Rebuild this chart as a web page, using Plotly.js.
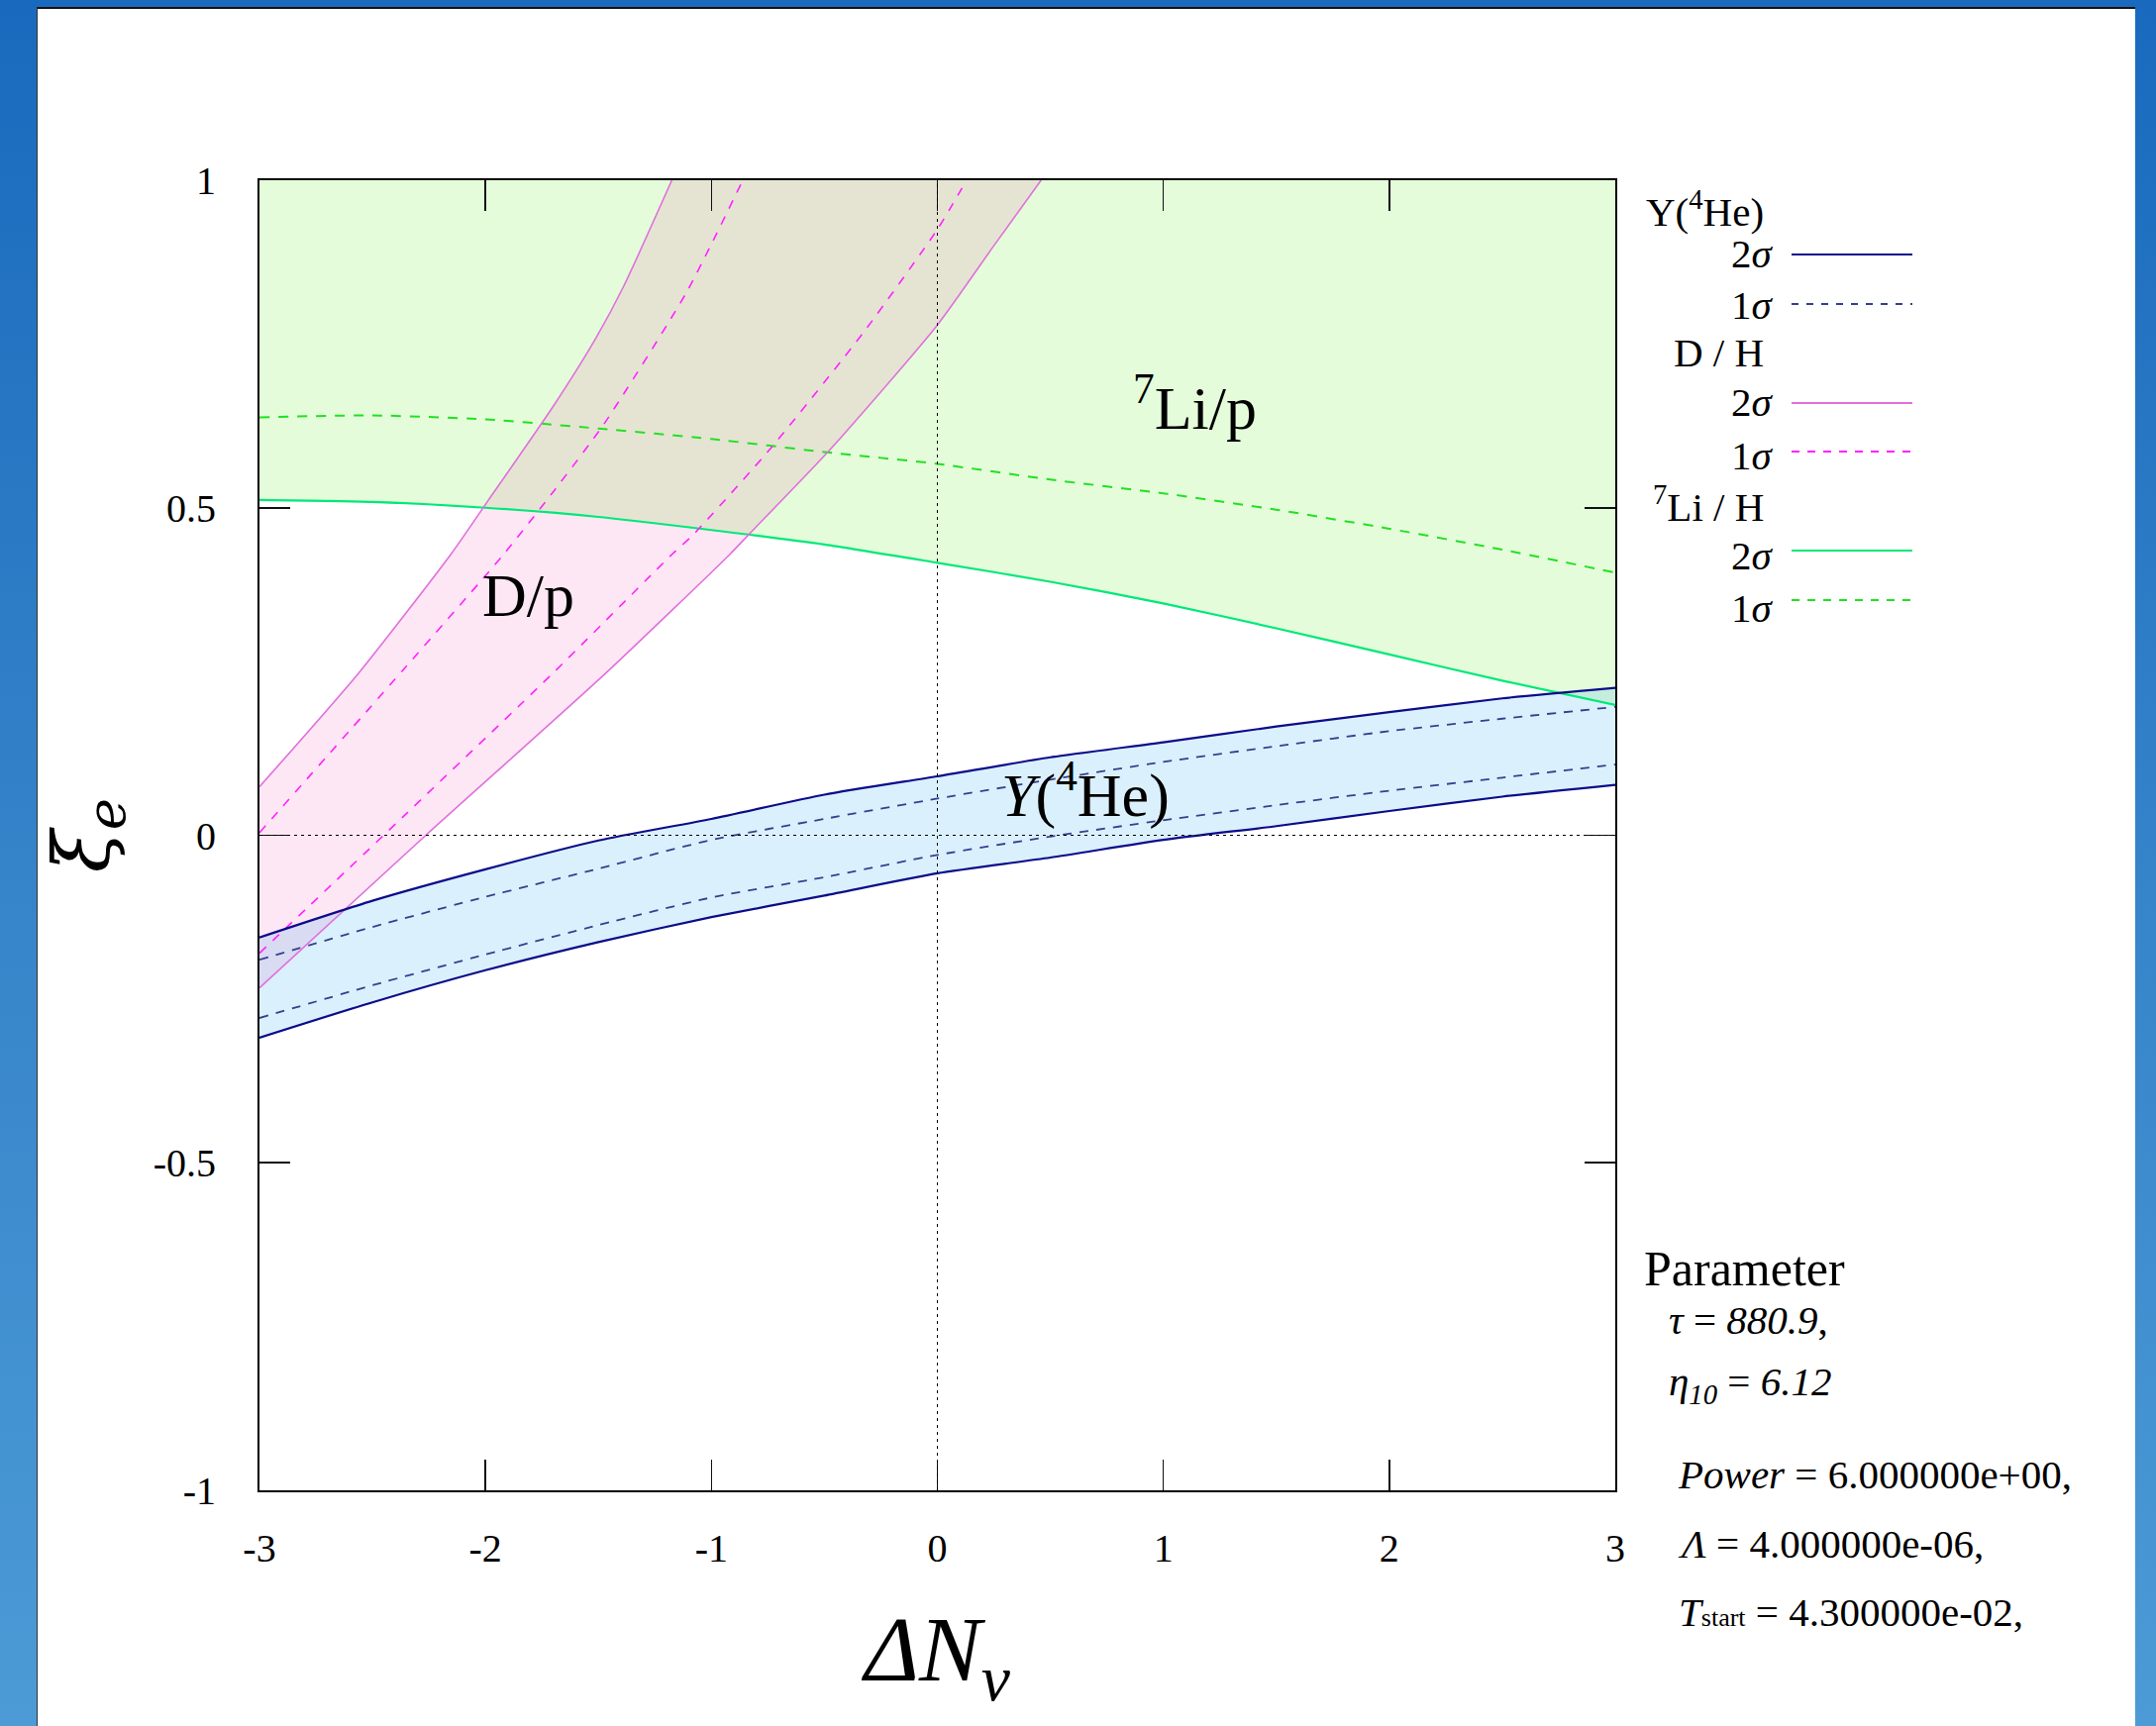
<!DOCTYPE html>
<html><head><meta charset="utf-8">
<script src="https://cdn.plot.ly/plotly-3.0.1.min.js"></script>
<style>
html,body{margin:0;padding:0;width:2177px;height:1743px;overflow:hidden;background:linear-gradient(to bottom,#196abe 0%,#3583c9 50%,#4c9bd6 100%);}
#frame{position:absolute;left:37px;top:7px;width:2119px;height:1736px;border-top:2px solid #111;border-left:1px solid #333;background:#fff;box-sizing:border-box;}
#chart{position:absolute;left:0;top:0;width:2118px;height:1734px;}
</style></head>
<body><div id="frame"><div id="chart"></div></div>
<script>
// ---------- data ----------
const xRange = [-3, 3];
const yRange = [-1, 1];
const xTicks = [-3, -2, -1, 0, 1, 2, 3];
const xTickText = ['-3', '-2', '-1', '0', '1', '2', '3'];
const yTicks = [-1, -0.5, 0, 0.5, 1];
const yTickText = ['-1', '-0.5', '0', '0.5', '1'];

// 7Li/H band (lower bounds)
const liX = [-3, -2.5, -2, -1.5, -1, -0.5, 0, 0.5, 1, 1.5, 2, 2.5, 3];
const li2sigma = [0.512, 0.509, 0.500, 0.486, 0.466, 0.444, 0.416, 0.387, 0.354, 0.316, 0.276, 0.236, 0.199];
const li1sigma = [0.638, 0.641, 0.635, 0.621, 0.605, 0.585, 0.567, 0.543, 0.522, 0.497, 0.468, 0.436, 0.401];

// Y(4He) band
const heX = [-3, -2.5, -2, -1.5, -1, -0.5, 0, 0.5, 1, 1.5, 2, 2.5, 3];
const he2Upper = [-0.156, -0.100, -0.052, -0.008, 0.025, 0.062, 0.090, 0.119, 0.142, 0.166, 0.188, 0.209, 0.225];
const he1Upper = [-0.190, -0.140, -0.094, -0.051, -0.007, 0.025, 0.056, 0.085, 0.112, 0.136, 0.159, 0.178, 0.196];
const he1Lower = [-0.279, -0.229, -0.182, -0.137, -0.095, -0.064, -0.030, -0.002, 0.023, 0.046, 0.068, 0.088, 0.108];
const he2Lower = [-0.309, -0.255, -0.206, -0.163, -0.125, -0.092, -0.058, -0.034, -0.007, 0.014, 0.037, 0.059, 0.077];

// D/H band
const dUpper2X = [-3, -2.56, -2.153, -1.99, -1.694, -1.511, -1.387, -1.175];
const dUpper2Y = [0.074, 0.248, 0.429, 0.51, 0.658, 0.759, 0.839, 1.0];
const dUpper1X = [-3, -2.36, -1.919, -1.694, -1.475, -1.11, -0.861];
const dUpper1Y = [0.004, 0.254, 0.429, 0.527, 0.628, 0.829, 1.0];
const dLower1X = [-3, -2.35, -1.694, -1.174, -1.08, -0.732, -0.324, 0, 0.129];
const dLower1Y = [-0.180, 0.033, 0.250, 0.429, 0.459, 0.593, 0.769, 0.925, 1.0];
const dLower2X = [-3, -2.264, -1.475, -0.918, -0.835, -0.477, 0, 0.25, 0.459];
const dLower2Y = [-0.233, 0.0, 0.245, 0.429, 0.459, 0.588, 0.779, 0.9, 1.0];

// ---------- styles ----------
const SERIF = 'Liberation Serif';
const HE2 = '#0c0c8a', HE1 = '#34408e';
const D2 = '#e070dc', D1 = '#ff22ff';
const LI2 = '#00e87a', LI1 = '#22e022';

function fillTrace(x, y, color) {
  return {x, y, type: 'scatter', mode: 'lines', fill: 'toself', fillcolor: color,
          line: {width: 0}, hoverinfo: 'skip', showlegend: false};
}
function lineTrace(x, y, color, width, dash, name) {
  return {x, y, type: 'scatter', mode: 'lines', name, line: {color, width, dash: dash || 'solid', shape: 'spline', smoothing: 0.6},
          showlegend: false};
}

const traces = [
  fillTrace(liX.concat([xRange[1], xRange[0]]), li2sigma.concat([yRange[1], yRange[1]]), 'rgb(228,252,218)'),
  fillTrace(dUpper2X.concat(dLower2X.slice().reverse()), dUpper2Y.concat(dLower2Y.slice().reverse()), 'rgba(238,55,163,0.12)'),
  fillTrace(heX.concat(heX.slice().reverse()), he2Upper.concat(he2Lower.slice().reverse()), 'rgba(15,155,242,0.15)'),
  lineTrace(liX, li2sigma, LI2, 2.2, null, '7Li/H 2σ'),
  lineTrace(liX, li1sigma, LI1, 2, '10px,9px', '7Li/H 1σ'),
  lineTrace(dUpper2X, dUpper2Y, D2, 1.6, null, 'D/H 2σ'),
  lineTrace(dLower2X, dLower2Y, D2, 1.6, null, 'D/H 2σ'),
  lineTrace(dUpper1X, dUpper1Y, D1, 1.6, '9px,9px', 'D/H 1σ'),
  lineTrace(dLower1X, dLower1Y, D1, 1.6, '9px,9px', 'D/H 1σ'),
  lineTrace(heX, he2Upper, HE2, 2.2, null, 'Y 2σ'),
  lineTrace(heX, he2Lower, HE2, 2.2, null, 'Y 2σ'),
  lineTrace(heX, he1Upper, HE1, 1.8, '9px,8px', 'Y 1σ'),
  lineTrace(heX, he1Lower, HE1, 1.8, '9px,8px', 'Y 1σ')
];

// ---------- layout helpers (pixel -> paper) ----------
const PL = 262, PT = 182, PW = 1369, PH = 1323;
const px = fx => (fx - PL) / PW;
const py = fy => (PT + PH - fy) / PH;
function textAt(text, fx, baseline, fs, anchor) {
  return {xref: 'paper', yref: 'paper', x: px(fx), y: py(baseline - 0.34 * fs),
          xanchor: anchor, yanchor: 'middle', text, showarrow: false,
          font: {family: SERIF, size: fs, color: '#000'}};
}

const LEG_FS = 41;
const annotations = [
  // in-plot labels
  {xref: 'x', yref: 'y', x: -1.81, y: 0.367, text: 'D/p', showarrow: false, font: {family: SERIF, size: 62, color: '#000'}},
  {xref: 'x', yref: 'y', x: 1.14, y: 0.66, text: '<sup>7</sup>Li/p', showarrow: false, font: {family: SERIF, size: 62, color: '#000'}},
  {xref: 'x', yref: 'y', x: 0.655, y: 0.068, text: '<i>Y</i>(<sup>4</sup>He)', showarrow: false, font: {family: SERIF, size: 62, color: '#000'}},
  // legend
  textAt('Y(<sup>4</sup>He)', 1783, 225, LEG_FS, 'right'),
  textAt('2<i>σ</i>', 1793, 270, LEG_FS, 'right'),
  textAt('1<i>σ</i>', 1793, 322, LEG_FS, 'right'),
  textAt('D / H', 1783, 370, LEG_FS, 'right'),
  textAt('2<i>σ</i>', 1793, 420, LEG_FS, 'right'),
  textAt('1<i>σ</i>', 1793, 474, LEG_FS, 'right'),
  textAt('<sup>7</sup>Li / H', 1783, 523, LEG_FS, 'right'),
  textAt('2<i>σ</i>', 1793, 575, LEG_FS, 'right'),
  textAt('1<i>σ</i>', 1793, 628, LEG_FS, 'right'),
  // parameters
  textAt('Parameter', 1658, 1298, 50, 'left'),
  textAt('<i>τ</i> = <i>880.9</i>,', 1683, 1347, 41, 'left'),
  textAt('<i>η</i><sub><i>10</i></sub> = <i>6.12</i>', 1683, 1412, 41, 'left'),
  textAt('<i>Power</i> = 6.000000e+00,', 1692, 1503, 41, 'left'),
  textAt('<i>Λ</i> = 4.000000e-06,', 1692, 1573, 41, 'left'),
  textAt('<i>T</i><span style="font-size:26px">start</span> = 4.300000e-02,', 1693, 1642, 41, 'left')
];

const legendLines = [
  {fy: 257, color: HE2, width: 2.2, dash: 'solid'},
  {fy: 307, color: HE1, width: 1.8, dash: '7px,8px'},
  {fy: 407, color: D2, width: 2, dash: 'solid'},
  {fy: 456, color: D1, width: 2, dash: '8px,8px'},
  {fy: 556, color: LI2, width: 2.2, dash: 'solid'},
  {fy: 606, color: LI1, width: 2, dash: '8px,8px'}
];
const shapes = legendLines.map(l => ({type: 'line', xref: 'paper', yref: 'paper',
  x0: px(1809), x1: px(1931), y0: py(l.fy), y1: py(l.fy),
  line: {color: l.color, width: l.width, dash: l.dash}}));
shapes.push({type: 'line', xref: 'x', yref: 'paper', x0: 0, x1: 0, y0: 0, y1: 1, layer: 'above',
             line: {color: '#000', width: 1, dash: '3px,4px'}});
shapes.push({type: 'line', xref: 'paper', yref: 'y', x0: 0, x1: 1, y0: 0, y1: 0, layer: 'above',
             line: {color: '#000', width: 1, dash: '3px,4px'}});

const axisCommon = {showgrid: false, zeroline: false, showline: true, linecolor: '#000', linewidth: 2,
  mirror: 'allticks', ticks: 'inside', ticklen: 31, tickwidth: 1.6, tickcolor: '#111',
  tickfont: {family: SERIF, size: 40, color: '#000'}};

const layout = {
  width: 2118, height: 1734,
  margin: {l: 224, r: 525, t: 173, b: 238, pad: 0},
  paper_bgcolor: '#ffffff', plot_bgcolor: '#ffffff',
  showlegend: false,
  xaxis: Object.assign({}, axisCommon, {range: xRange, tickvals: xTicks, ticktext: xTickText,
    ticklabelstandoff: 22,
    title: {text: '<i>ΔN<sub>ν</sub></i>', font: {family: SERIF, size: 94, color: '#000'}, standoff: 46}}),
  yaxis: Object.assign({}, axisCommon, {range: yRange, tickvals: yTicks, ticktext: yTickText,
    ticklabelstandoff: 34,
    title: {text: '<i>ξ<sub>e</sub></i>', font: {family: 'DejaVu Serif', size: 78, color: '#000'}, standoff: 26}}),
  annotations, shapes
};

Plotly.newPlot('chart', traces, layout, {displayModeBar: false, staticPlot: true});
</script></body></html>
